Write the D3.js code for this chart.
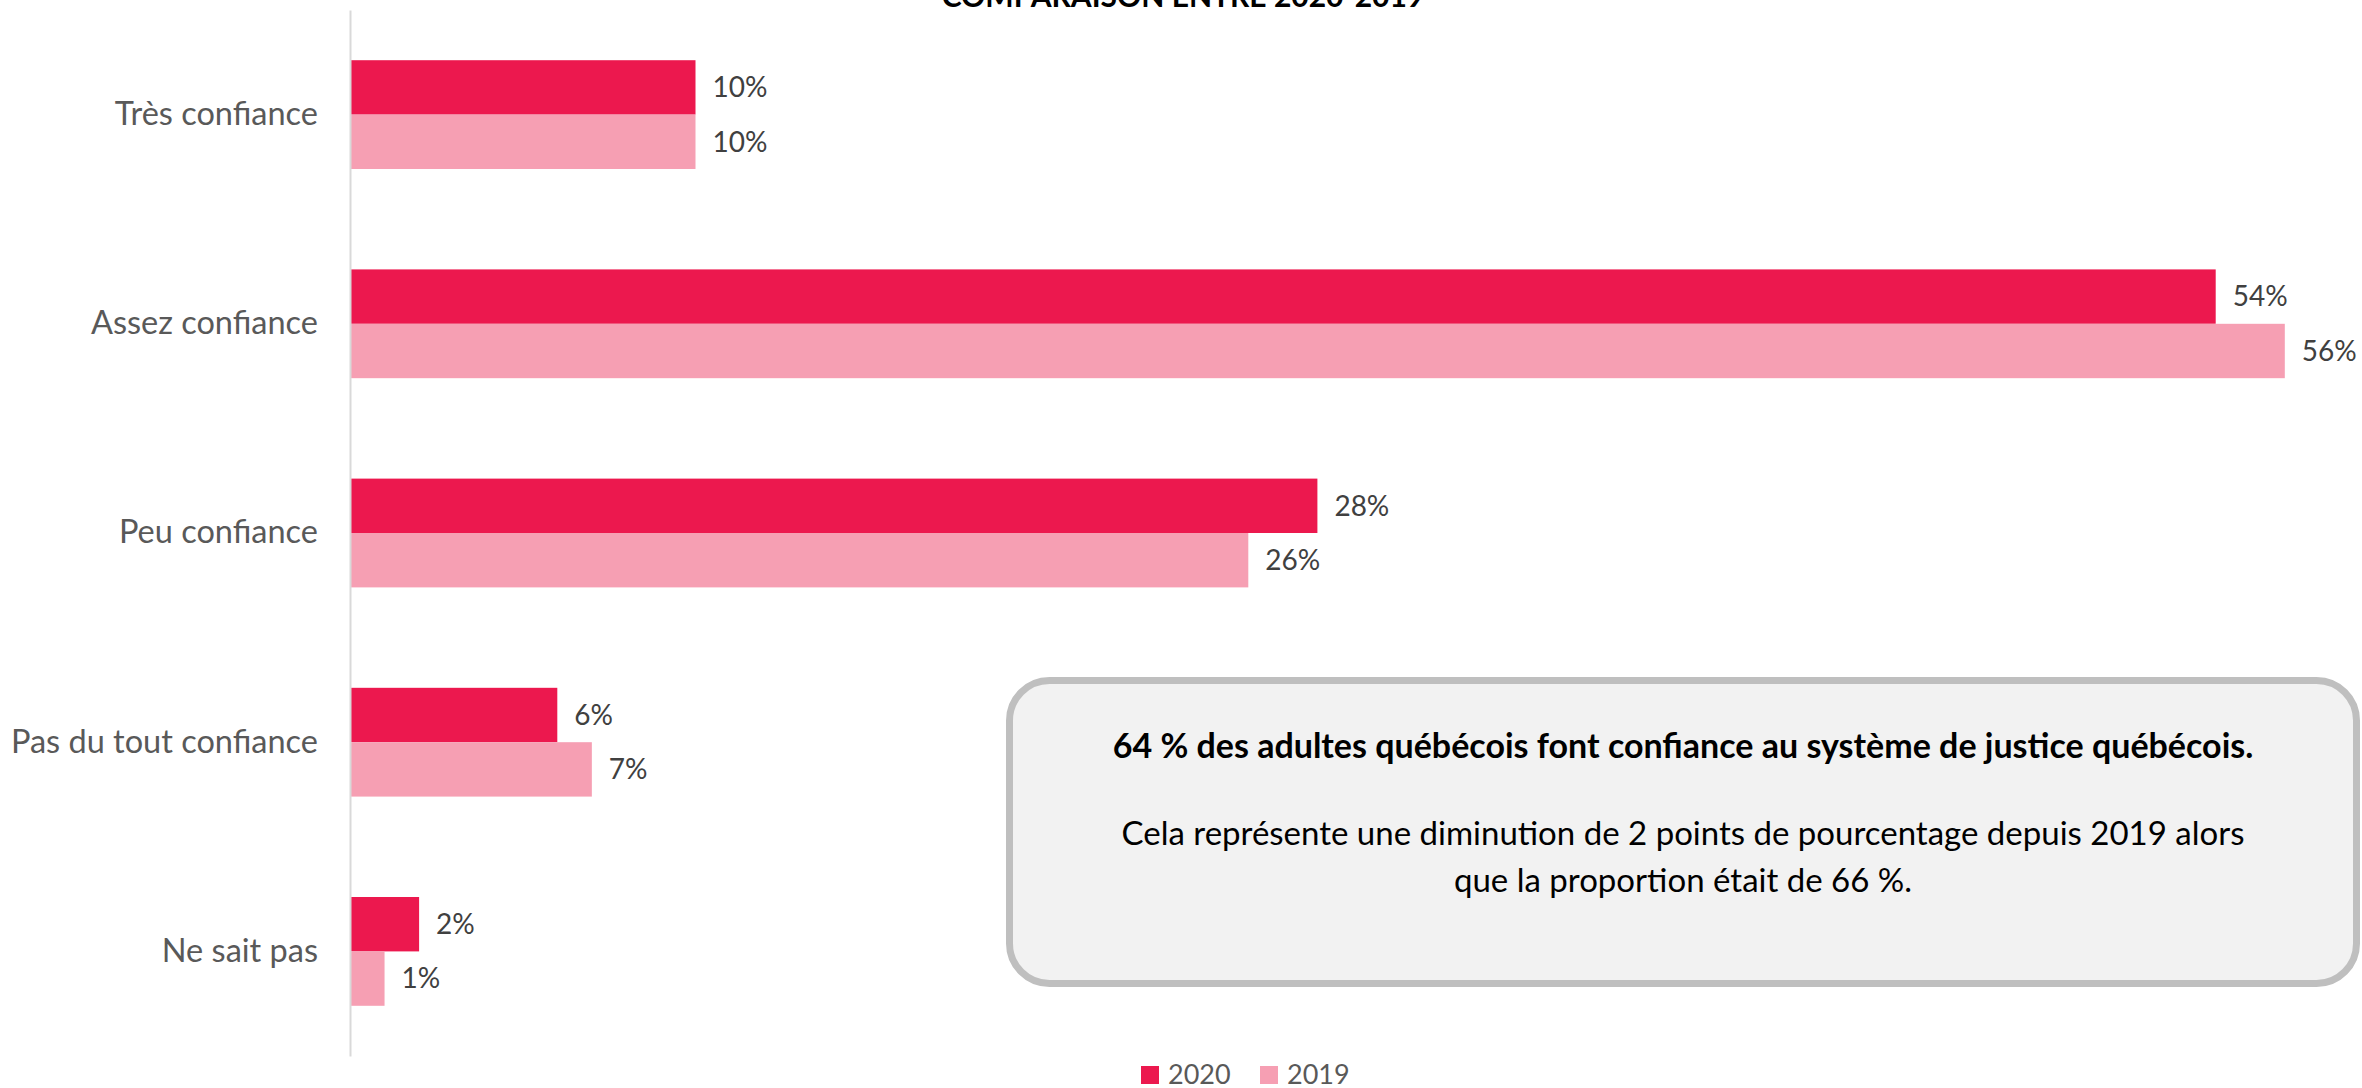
<!DOCTYPE html>
<html>
<head>
<meta charset="utf-8">
<script src="https://cdn.jsdelivr.net/npm/d3@7"></script>
<style>
  body { margin: 0; background: #fff; }
  svg { display: block; font-family: Lato, "Open Sans", sans-serif; }
</style>
</head>
<body>
<div id="chart"></div>
<script>
const categories = ["Très confiance", "Assez confiance", "Peu confiance", "Pas du tout confiance", "Ne sait pas"];
const years = ["2020", "2019"];
const values2020 = [0.10, 0.54, 0.28, 0.06, 0.02];
const values2019 = [0.10, 0.56, 0.26, 0.07, 0.01];
const colors = ["#ec184e", "#f69fb3"];

const title = "COMPARAISON ENTRE 2020-2019";
const noteBold = "64 % des adultes québécois font confiance au système de justice québécois.";
const noteLines = ["Cela représente une diminution de 2 points de pourcentage depuis 2019 alors", "que la proportion était de 66 %."];

const width = 2362;
const height = 1088;

const svg = d3.select("#chart")
    .append("svg")
    .attr("width", width)
    .attr("height", height);

// scales
const x = d3.scaleLinear().domain([0, 0.6]).range([350, 350 + 0.6 * 3455]);
const y = d3.scaleBand().domain(categories).range([10, 1056]).paddingInner(0.48).paddingOuter(0.24);
const ySub = d3.scaleBand().domain(years).range([0, y.bandwidth()]);
const color = d3.scaleOrdinal().domain(years).range(colors);

const rows = categories.map((c, i) => ({ cat: c, vals: [
    { year: "2020", value: values2020[i] },
    { year: "2019", value: values2019[i] }
]}));

// title, cut at the top like the original
svg.append("text")
    .attr("x", 1183)
    .attr("y", 7)
    .attr("text-anchor", "middle")
    .attr("font-size", 30)
    .attr("font-weight", "bold")
    .attr("fill", "#000")
    .text(title);

// bars
const group = svg.selectAll("g.row")
    .data(rows)
    .enter()
    .append("g")
    .attr("class", "row")
    .attr("transform", d => `translate(0,${y(d.cat)})`);

group.selectAll("rect")
    .data(d => d.vals)
    .enter()
    .append("rect")
    .attr("x", x(0))
    .attr("y", d => ySub(d.year))
    .attr("width", d => x(d.value) - x(0))
    .attr("height", ySub.bandwidth())
    .attr("fill", d => color(d.year));

group.selectAll("text")
    .data(d => d.vals)
    .enter()
    .append("text")
    .attr("x", d => x(d.value) + 17)
    .attr("y", d => ySub(d.year) + ySub.bandwidth() / 2)
    .attr("dy", "0.35em")
    .attr("font-size", 28)
    .attr("fill", "#404040")
    .text(d => Math.round(d.value * 100) + "%");

// category axis
const axis = svg.append("g")
    .attr("transform", `translate(${x(0)},0)`)
    .call(d3.axisLeft(y).tickSize(0).tickPadding(32).tickSizeOuter(0));
axis.select(".domain").attr("stroke", "#d9d9d9").attr("stroke-width", 2);
axis.selectAll(".tick text")
    .attr("font-size", 32.5)
    .attr("font-family", "Lato, sans-serif")
    .attr("fill", "#595959");

// note box
const box = svg.append("g");
box.append("rect")
    .attr("x", 1009.5)
    .attr("y", 680.5)
    .attr("width", 1347)
    .attr("height", 303)
    .attr("rx", 40)
    .attr("fill", "#f2f2f2")
    .attr("stroke", "#bfbfbf")
    .attr("stroke-width", 7);

box.append("text")
    .attr("x", 1683)
    .attr("y", 758)
    .attr("text-anchor", "middle")
    .attr("font-size", 34)
    .attr("font-weight", "bold")
    .attr("fill", "#000")
    .text(noteBold);

box.selectAll("text.line")
    .data(noteLines)
    .enter()
    .append("text")
    .attr("class", "line")
    .attr("x", 1683)
    .attr("y", (d, i) => 845 + i * 47)
    .attr("text-anchor", "middle")
    .attr("font-size", 33)
    .attr("fill", "#000")
    .text(d => d);

// legend
const legend = svg.selectAll("g.legend")
    .data(years)
    .enter()
    .append("g")
    .attr("class", "legend")
    .attr("transform", (d, i) => `translate(${1141 + i * 119},1066)`);

legend.append("rect")
    .attr("width", 18)
    .attr("height", 18)
    .attr("fill", d => color(d));

legend.append("text")
    .attr("x", 27)
    .attr("y", 18)
    .attr("font-size", 27)
    .attr("fill", "#595959")
    .text(d => d);
</script>
</body>
</html>
